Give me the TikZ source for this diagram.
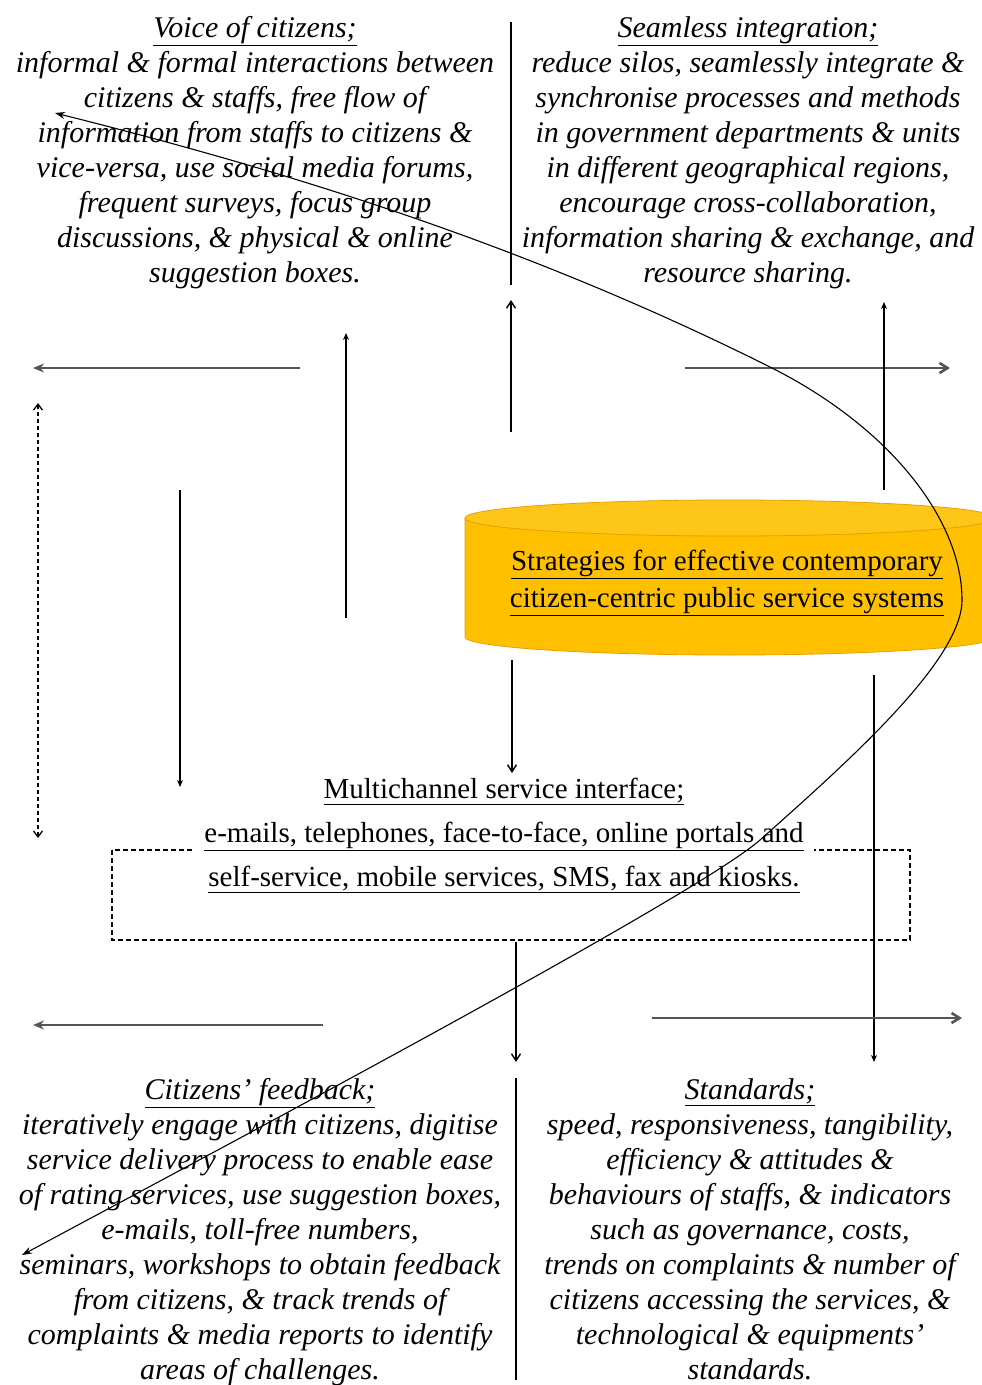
\documentclass[tikz,border=0pt]{standalone}
\usepackage{fontspec}
\setmainfont{Liberation Serif}
\usetikzlibrary{arrows.meta}
\definecolor{gold}{HTML}{FFC000}
\definecolor{goldtop}{HTML}{FFC61A}
\definecolor{goldedge}{HTML}{E8A000}
\definecolor{arrowgray}{HTML}{555555}
\begin{document}
\begin{tikzpicture}[x=1pt,y=-1pt,
  blocktext/.style={align=center, anchor=north, inner sep=0pt, font=\fontsize{30}{35}\selectfont\itshape},
  midtext/.style={align=center, anchor=north, inner sep=0pt, font=\fontsize{29}{44}\selectfont},
  cyltext/.style={align=center, anchor=north, inner sep=0pt, font=\fontsize{29}{37}\selectfont},
  divider/.style={line width=2pt},
  grayarrow/.style={draw=arrowgray, line width=2.6pt, -{Stealth[length=11pt,width=9pt]}},
  grayopen/.style={draw=arrowgray, line width=2.6pt, -{Straight Barb[length=8pt,width=10pt]}},
  thinarrow/.style={line width=1.2pt, -{Stealth[length=7pt,width=6pt]}},
  openarrow/.style={line width=1.4pt, -{Straight Barb[length=7pt,width=9pt]}},
  dasharrow/.style={line width=1.3pt, dash pattern=on 4pt off 3pt, {Straight Barb[length=6pt,width=9pt]}-{Straight Barb[length=6pt,width=9pt]}},
  dashbox/.style={line width=1.3pt, dash pattern=on 5pt off 3pt},
  bigcurve/.style={line width=1.1pt, {Stealth[length=10pt,width=7pt]}-{Stealth[length=10pt,width=7pt]}}
]
\useasboundingbox (0,0) rectangle (982,1385);
\fill[white] (0,0) rectangle (982,1385);

% dashed frame of the multichannel interface
\draw[dashbox] (112,850) rectangle (910,940);

% cylinder
\path[fill=gold, draw=goldedge, line width=0.8pt] (465,518) -- (465,637)
  arc[start angle=180, end angle=0, x radius=265, y radius=18] -- (995,518) -- cycle;
\path[fill=goldtop, draw=goldedge, line width=0.8pt] (730,518) ellipse [x radius=265, y radius=18];
\node[cyltext] (cyl) at (727,550) {\underline{Strategies for effective contemporary}\\\underline{citizen-centric public service systems}};

% text blocks
\node[blocktext] (voice) at (255,16) {\underline{Voice of citizens;}\\
informal \& formal interactions between\\
citizens \& staffs, free flow of\\
information from staffs to citizens \&\\
vice-versa, use social media forums,\\
frequent surveys, focus group\\
discussions, \& physical \& online\\
suggestion boxes.};

\node[blocktext] (seam) at (748,16) {\underline{Seamless integration;}\\
reduce silos, seamlessly integrate \&\\
synchronise processes and methods\\
in government departments \& units\\
in different geographical regions,\\
encourage cross-collaboration,\\
information sharing \& exchange, and\\
resource sharing.};

\node[blocktext] (feed) at (260,1078) {\underline{Citizens' feedback;}\\
iteratively engage with citizens, digitise\\
service delivery process to enable ease\\
of rating services, use suggestion boxes,\\
e-mails, toll-free numbers,\\
seminars, workshops to obtain feedback\\
from citizens, \& track trends of\\
complaints \& media reports to identify\\
areas of challenges.};

\node[blocktext] (std) at (750,1078) {\underline{Standards;}\\
speed, responsiveness, tangibility,\\
efficiency \& attitudes \&\\
behaviours of staffs, \& indicators\\
such as governance, costs,\\
trends on complaints \& number of\\
citizens accessing the services, \&\\
technological \& equipments'\\
standards.};

\node[midtext, fill=white, inner xsep=10pt, inner ysep=2pt] (multi) at (504,776) {\underline{Multichannel service interface;}\\
\underline{e-mails, telephones, face-to-face, online portals and}\\
\underline{self-service, mobile services, SMS, fax and kiosks.}};

% dividers
\coordinate (dt1) at (511,22); \coordinate (dt2) at (511,285);
\coordinate (db1) at (516,1078); \coordinate (db2) at (516,1380);
\draw[divider] (dt1) -- (dt2);
\draw[divider] (db1) -- (db2);

% arrow end points
\coordinate (a1s) at (300,368); \coordinate (a1e) at (33,368);
\coordinate (a2s) at (38,838); \coordinate (a2e) at (38,403);
\coordinate (a3s) at (346,618); \coordinate (a3e) at (346,333);
\coordinate (a4s) at (180,490); \coordinate (a4e) at (180,787);
\coordinate (a5s) at (511,432); \coordinate (a5e) at (511,300);
\coordinate (a6s) at (685,368); \coordinate (a6e) at (950,368);
\coordinate (a7s) at (884,490); \coordinate (a7e) at (884,302);
\coordinate (a8s) at (512,660); \coordinate (a8e) at (512,773);
\coordinate (a9s) at (874,675); \coordinate (a9e) at (874,1062);
\coordinate (a10s) at (516,942); \coordinate (a10e) at (516,1062);
\coordinate (a11s) at (323,1025); \coordinate (a11e) at (33,1025);
\coordinate (a12s) at (652,1018); \coordinate (a12e) at (962,1018);

\draw[grayarrow] (a1s) -- (a1e);
\draw[dasharrow] (a2s) -- (a2e);
\draw[thinarrow] (a3s) -- (a3e);
\draw[thinarrow] (a4s) -- (a4e);
\draw[openarrow] (a5s) -- (a5e);
\draw[grayopen] (a6s) -- (a6e);
\draw[thinarrow] (a7s) -- (a7e);
\draw[openarrow] (a8s) -- (a8e);
\draw[thinarrow] (a9s) -- (a9e);
\draw[openarrow] (a10s) -- (a10e);
\draw[grayarrow] (a11s) -- (a11e);
\draw[grayopen] (a12s) -- (a12e);

% big curve
\coordinate (c0) at (55,113);
\coordinate (c1) at (770,367);
\coordinate (cv) at (962,600);
\coordinate (c2) at (760,840);
\coordinate (cN) at (22,1255);
\draw[bigcurve] (c0) .. controls (295,173) and (530,247) .. (c1)
  .. controls (890,427) and (962,520) .. (cv)
  .. controls (962,660) and (850,760) .. (c2)
  .. controls (700,893) and (272,1121) .. (cN);
\end{tikzpicture}
\end{document}
